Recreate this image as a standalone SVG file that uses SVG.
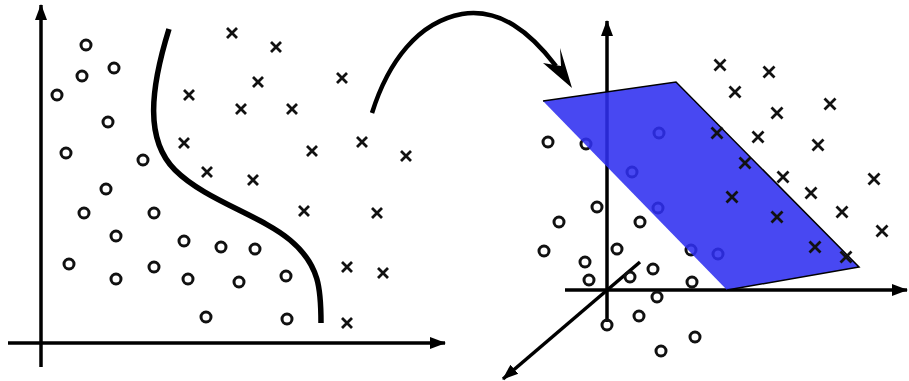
<svg xmlns="http://www.w3.org/2000/svg" xmlns:xlink="http://www.w3.org/1999/xlink" width="909" height="381" viewBox="0 0 909 381">
<style>
.ax{stroke:#000;stroke-width:3.5;fill:none}
.o{fill:none;stroke:#111;stroke-width:3}
.x{stroke:#111;stroke-width:2.8;fill:none}
</style>
<defs>
<marker id="ah" markerUnits="userSpaceOnUse" markerWidth="18" markerHeight="14" refX="15" refY="7" orient="auto">
<path d="M0,1 L16,7 L0,13 Z" fill="#000"/>
</marker>
<circle id="o" class="o" r="5"/>
<path id="x" class="x" d="M-5,-5L5,5M5,-5L-5,5"/>
<path id="X" class="x" d="M-5.5,-5.5L5.5,5.5M5.5,-5.5L-5.5,5.5"/>
</defs>
<rect width="909" height="381" fill="#fff"/>
<g id="left-panel">
<line class="ax" x1="41" y1="367" x2="41" y2="5" marker-end="url(#ah)"/>
<line class="ax" x1="8" y1="343" x2="445" y2="343" marker-end="url(#ah)"/>
<path d="M169,29 C150,90 145,140 175,170 C205,200 260,215 290,240 C320,265 321,290 321,323" fill="none" stroke="#000" stroke-width="5.5"/>
<g id="left-circles">
<use xlink:href="#o" x="86" y="45"/><use xlink:href="#o" x="114" y="68"/><use xlink:href="#o" x="82" y="76"/><use xlink:href="#o" x="57" y="95"/>
<use xlink:href="#o" x="108" y="122"/><use xlink:href="#o" x="66" y="153"/><use xlink:href="#o" x="143" y="160"/><use xlink:href="#o" x="106" y="189"/>
<use xlink:href="#o" x="84" y="213"/><use xlink:href="#o" x="154" y="213"/><use xlink:href="#o" x="116" y="236"/><use xlink:href="#o" x="184" y="241"/>
<use xlink:href="#o" x="221" y="247"/><use xlink:href="#o" x="255" y="249"/><use xlink:href="#o" x="69" y="264"/><use xlink:href="#o" x="154" y="267"/>
<use xlink:href="#o" x="116" y="279"/><use xlink:href="#o" x="188" y="279"/><use xlink:href="#o" x="239" y="282"/><use xlink:href="#o" x="286" y="276"/>
<use xlink:href="#o" x="206" y="317"/><use xlink:href="#o" x="287" y="319"/>
</g>
<g id="left-crosses">
<use xlink:href="#x" x="232" y="33"/><use xlink:href="#x" x="276" y="47"/><use xlink:href="#x" x="258" y="82"/><use xlink:href="#x" x="342" y="78"/>
<use xlink:href="#x" x="189" y="95"/><use xlink:href="#x" x="241" y="109"/><use xlink:href="#x" x="292" y="109"/><use xlink:href="#x" x="184" y="143"/>
<use xlink:href="#x" x="362" y="142"/><use xlink:href="#x" x="312" y="151"/><use xlink:href="#x" x="406" y="156"/><use xlink:href="#x" x="207" y="172"/>
<use xlink:href="#x" x="253" y="180"/><use xlink:href="#x" x="304" y="211"/><use xlink:href="#x" x="377" y="213"/><use xlink:href="#x" x="347" y="267"/>
<use xlink:href="#x" x="383" y="273"/><use xlink:href="#x" x="347" y="323"/>
</g>
</g>
<g id="transform-arrow">
<path d="M372,113 C388,62 418,22 462,14 C500,8 530,32 556,66" fill="none" stroke="#000" stroke-width="4.5"/>
<path d="M572,88 L560,48 L561,66 L543,63 Z" fill="#000"/>
</g>
<g id="right-panel">
<line class="ax" x1="607" y1="322" x2="607" y2="21" marker-end="url(#ah)"/>
<line class="ax" x1="565" y1="290" x2="907" y2="290" marker-end="url(#ah)"/>
<line class="ax" x1="640" y1="262" x2="503" y2="379" marker-end="url(#ah)"/>
<g id="right-circles">
<use xlink:href="#o" x="548" y="142"/><use xlink:href="#o" x="586" y="144"/><use xlink:href="#o" x="659" y="133"/><use xlink:href="#o" x="632" y="172"/>
<use xlink:href="#o" x="597" y="207"/><use xlink:href="#o" x="559" y="222"/><use xlink:href="#o" x="658" y="208"/><use xlink:href="#o" x="640" y="222"/>
<use xlink:href="#o" x="544" y="251"/><use xlink:href="#o" x="617" y="249"/><use xlink:href="#o" x="585" y="262"/><use xlink:href="#o" x="691" y="250"/>
<use xlink:href="#o" x="718" y="254"/><use xlink:href="#o" x="653" y="269"/><use xlink:href="#o" x="630" y="277"/><use xlink:href="#o" x="589" y="280"/>
<use xlink:href="#o" x="692" y="282"/><use xlink:href="#o" x="657" y="297"/><use xlink:href="#o" x="639" y="316"/><use xlink:href="#o" x="607" y="325"/>
<use xlink:href="#o" x="695" y="337"/><use xlink:href="#o" x="661" y="351"/>
</g>
<g id="plane">
<polygon points="543,101 676,82 859,267 727,290" fill="#2f2ff0" fill-opacity="0.88"/>
<polyline points="543,101 676,82 859,267 727,290" fill="none" stroke="#000" stroke-width="1.5"/>
</g>
<g id="right-crosses">
<use xlink:href="#X" x="720" y="65"/><use xlink:href="#X" x="769" y="72"/><use xlink:href="#X" x="735" y="92"/><use xlink:href="#X" x="830" y="104"/>
<use xlink:href="#X" x="777" y="113"/><use xlink:href="#X" x="717" y="133"/><use xlink:href="#X" x="758" y="137"/><use xlink:href="#X" x="818" y="145"/>
<use xlink:href="#X" x="745" y="163"/><use xlink:href="#X" x="783" y="177"/><use xlink:href="#X" x="874" y="179"/><use xlink:href="#X" x="811" y="193"/>
<use xlink:href="#X" x="732" y="197"/><use xlink:href="#X" x="842" y="212"/><use xlink:href="#X" x="777" y="217"/><use xlink:href="#X" x="882" y="231"/>
<use xlink:href="#X" x="815" y="247"/><use xlink:href="#X" x="846" y="257"/>
</g>
</g>
</svg>
